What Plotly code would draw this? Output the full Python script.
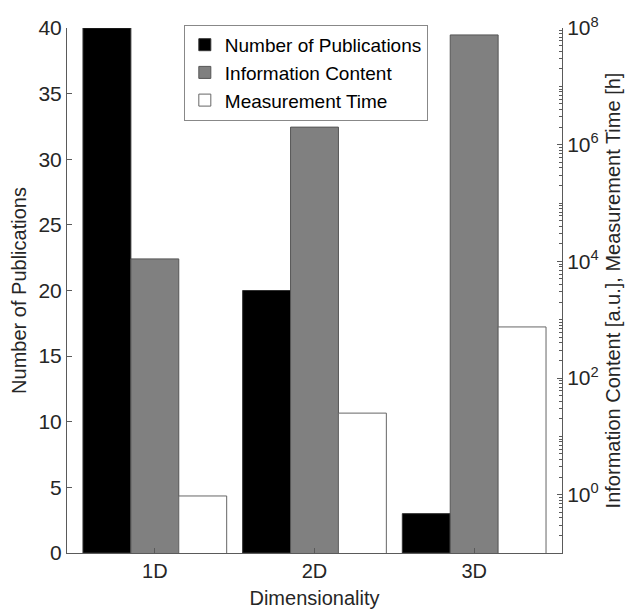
import plotly.graph_objects as go

categories = ["1D", "2D", "3D"]
publications = [40, 20, 3]
info_content = [1.1e4, 2.0e6, 7.6e7]
measurement_time = [0.95, 25, 750]

FONT = "Liberation Sans, Arial, sans-serif"
AX = "#5a5a5a"
TXT = "#262626"

fig = go.Figure()
fig.add_trace(go.Bar(x=categories, y=publications, name="Number of Publications",
                     marker=dict(color="black", line=dict(color="#333333", width=1)),
                     offsetgroup="a", yaxis="y"))
fig.add_trace(go.Bar(x=categories, y=info_content, name="Information Content",
                     marker=dict(color="#808080", line=dict(color="#555555", width=1)),
                     offsetgroup="b", yaxis="y2"))
fig.add_trace(go.Bar(x=categories, y=measurement_time, name="Measurement Time",
                     marker=dict(color="white", line=dict(color="#666666", width=1)),
                     offsetgroup="c", yaxis="y2"))

minor_vals = [k * 10 ** e for e in range(-1, 8) for k in range(1, 10)]

fig.update_layout(
    width=633, height=613,
    margin=dict(l=67, r=71, t=28, b=60),
    paper_bgcolor="white", plot_bgcolor="white",
    font=dict(family=FONT, size=21, color=TXT),
    barmode="group", bargap=0.1, bargroupgap=0,
    xaxis=dict(
        type="category", range=[-0.55, 2.55], automargin=False,
        showline=True, linecolor=AX, linewidth=1,
        ticks="inside", ticklen=5, tickcolor=AX,
        title=dict(text="Dimensionality", standoff=9, font=dict(size=20)),
        tickfont=dict(size=20), showgrid=False, zeroline=False,
    ),
    yaxis=dict(
        range=[0, 40], tickvals=[0, 5, 10, 15, 20, 25, 30, 35, 40], automargin=False,
        showline=True, linecolor=AX, linewidth=1,
        ticks="inside", ticklen=5, tickcolor=AX,
        title=dict(text="Number of Publications", standoff=6, font=dict(size=20)),
        tickfont=dict(size=21), showgrid=False, zeroline=False,
    ),
    yaxis2=dict(
        type="log", range=[-1, 8], overlaying="y", side="right", automargin=False,
        tickvals=[1, 1e2, 1e4, 1e6, 1e8],
        ticktext=["10<sup>0</sup>", "10<sup>2</sup>", "10<sup>4</sup>", "10<sup>6</sup>", "10<sup>8</sup>"],
        showline=True, linecolor=AX, linewidth=1,
        ticks="inside", ticklen=5, tickcolor=AX,
        minor=dict(tickmode="array", tickvals=minor_vals, ticks="inside", ticklen=3, tickcolor=AX, showgrid=False),
        title=dict(text="Information Content [a.u.], Measurement Time [h]", standoff=8, font=dict(size=20)),
        tickfont=dict(size=21), showgrid=False, zeroline=False,
    ),
    legend=dict(
        x=0.236, y=1.006, xanchor="left", yanchor="top",
        bgcolor="white", bordercolor="#888888", borderwidth=1,
        font=dict(size=19, color="black"), tracegroupgap=0,
        itemwidth=30,
    ),
    showlegend=True,
)

fig.write_html("out.html")
